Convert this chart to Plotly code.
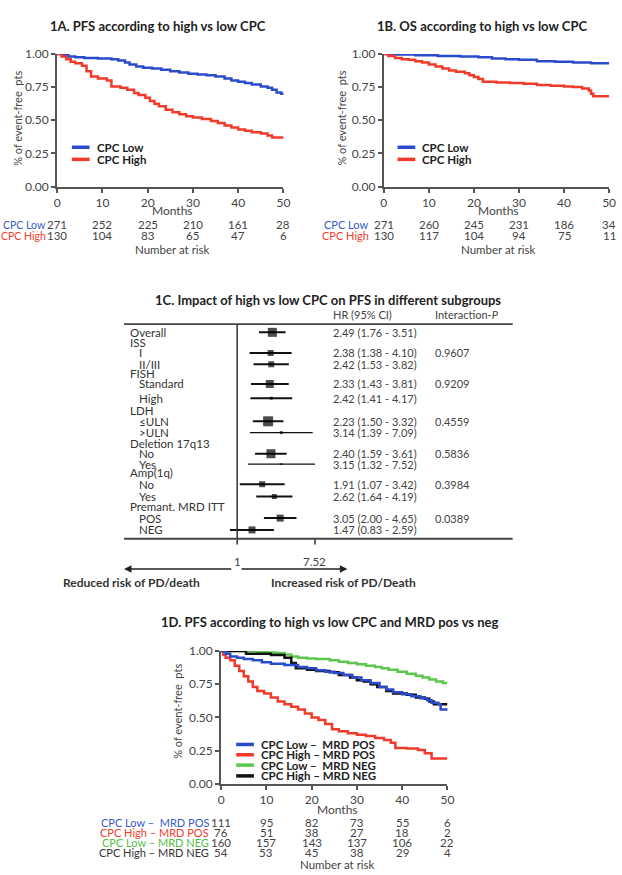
import numpy as np
import plotly.graph_objects as go

W, H = 622, 875
FONT = "Lato, 'Open Sans', sans-serif"

# ---------------- DATA ----------------
months_ticks = [0, 10, 20, 30, 40, 50]

# 1A PFS
pfs_low_t = [0, 1, 2.5, 4, 6, 9, 12, 13.5, 15, 16, 17.5, 19, 21, 23, 25, 27, 29, 31, 33, 35, 37, 38.5, 40, 41.5, 43, 45, 46.5, 47.5, 48.5, 49.5, 50]
pfs_low_s = [1.0, 0.99, 0.98, 0.975, 0.97, 0.965, 0.96, 0.95, 0.935, 0.92, 0.905, 0.895, 0.89, 0.88, 0.87, 0.86, 0.85, 0.845, 0.84, 0.83, 0.815, 0.80, 0.79, 0.78, 0.77, 0.755, 0.745, 0.73, 0.71, 0.70, 0.69]
pfs_high_t = [0, 1, 2, 3, 4, 5.5, 6.5, 7.5, 9, 11, 12, 14, 15.5, 17, 18, 19.5, 20.5, 21.5, 22.5, 24, 25.5, 27, 28.5, 30, 32, 34, 35.5, 37, 38.5, 40, 41.5, 43, 45, 46.5, 47.5, 50]
pfs_high_s = [1.0, 0.98, 0.96, 0.94, 0.93, 0.91, 0.87, 0.83, 0.815, 0.80, 0.755, 0.745, 0.73, 0.705, 0.69, 0.67, 0.645, 0.625, 0.605, 0.58, 0.56, 0.545, 0.53, 0.52, 0.51, 0.495, 0.48, 0.46, 0.445, 0.43, 0.42, 0.41, 0.40, 0.385, 0.37, 0.36]
pfs_risk_labels = ["CPC Low", "CPC High"]
pfs_risk = [[271, 252, 225, 210, 161, 28], [130, 104, 83, 65, 47, 6]]

# 1B OS
os_low_t = [0, 3, 7, 12, 17, 21, 24, 27, 30, 34, 38, 42, 46, 50]
os_low_s = [1.0, 0.995, 0.99, 0.985, 0.98, 0.975, 0.965, 0.96, 0.955, 0.945, 0.94, 0.935, 0.93, 0.925]
os_high_t = [0, 1, 2.5, 4, 5.5, 7, 8.5, 10, 11.5, 13, 14.5, 16, 18, 19, 20, 21, 22, 25, 28, 31, 34, 37, 40, 42, 44, 45.5, 46, 46.5, 50]
os_high_s = [1.0, 0.985, 0.97, 0.96, 0.955, 0.945, 0.935, 0.92, 0.905, 0.89, 0.875, 0.865, 0.855, 0.84, 0.825, 0.81, 0.79, 0.785, 0.78, 0.775, 0.765, 0.76, 0.755, 0.75, 0.74, 0.725, 0.70, 0.68, 0.675]
os_risk = [[271, 260, 245, 231, 186, 34], [130, 117, 104, 94, 75, 11]]

# 1C forest
fp_rows = ["Overall", "ISS", "I", "II/III", "FISH", "Standard", "High", "LDH", "≤ULN", "&gt;ULN",
           "Deletion 17q13", "No", "Yes", "Amp(1q)", "No", "Yes", "Premant. MRD ITT", "POS", "NEG"]
fp_hr = [2.49, None, 2.38, 2.42, None, 2.33, 2.42, None, 2.23, 3.14, None, 2.40, 3.15, None, 1.91, 2.62, None, 3.05, 1.47]
fp_lo = [1.76, None, 1.38, 1.53, None, 1.43, 1.41, None, 1.50, 1.39, None, 1.59, 1.32, None, 1.07, 1.64, None, 2.00, 0.83]
fp_hi = [3.51, None, 4.10, 3.82, None, 3.81, 4.17, None, 3.32, 7.09, None, 3.61, 7.52, None, 3.42, 4.19, None, 4.65, 2.59]
fp_p = ["", "", "0.9607", "", "", "0.9209", "", "", "0.4559", "", "", "0.5836", "", "", "0.3984", "", "", "0.0389", ""]
fp_ticks = [1, 7.52]

# 1D
d_labels = ["CPC Low \u2013  MRD POS", "CPC High \u2013 MRD POS", "CPC Low \u2013 MRD NEG", "CPC High \u2013 MRD NEG"]
d_legend = ["CPC Low \u2013  MRD POS", "CPC High \u2013 MRD POS", "CPC Low \u2013  MRD NEG", "CPC High \u2013 MRD NEG"]
d_low_pos_t = [0, 1, 2, 3.5, 5, 7, 9, 11, 14, 17, 19, 21, 23, 25, 27, 29, 31, 33, 35, 36.5, 38, 40, 42, 44, 45.5, 46.5, 48, 48.5, 50]
d_low_pos_s = [1.0, 0.98, 0.96, 0.95, 0.94, 0.93, 0.915, 0.905, 0.895, 0.88, 0.87, 0.855, 0.845, 0.835, 0.82, 0.80, 0.78, 0.76, 0.73, 0.71, 0.69, 0.675, 0.66, 0.645, 0.63, 0.61, 0.60, 0.56, 0.55]
d_high_pos_t = [0, 0.5, 1, 2, 3, 4, 5, 6, 7, 8, 9.5, 11, 12.5, 14, 15.5, 17, 18.5, 20, 21.5, 23, 24.5, 26, 28, 30, 32, 34, 36, 37.5, 38.5, 41, 43.5, 45, 46.5, 50]
d_high_pos_s = [1.0, 0.97, 0.95, 0.93, 0.89, 0.85, 0.81, 0.77, 0.73, 0.70, 0.68, 0.65, 0.62, 0.60, 0.58, 0.56, 0.53, 0.50, 0.48, 0.45, 0.41, 0.395, 0.38, 0.37, 0.36, 0.345, 0.33, 0.31, 0.27, 0.265, 0.255, 0.23, 0.19, 0.19]
d_low_neg_t = [0, 7, 8, 10, 12, 14, 15.5, 17, 19, 21, 24, 26, 28, 30, 32, 34, 35.5, 37, 39, 41, 43, 44.5, 46, 47.5, 49, 50]
d_low_neg_s = [1.0, 1.0, 0.995, 0.99, 0.985, 0.975, 0.96, 0.95, 0.945, 0.94, 0.93, 0.92, 0.91, 0.90, 0.89, 0.88, 0.87, 0.86, 0.845, 0.83, 0.815, 0.80, 0.785, 0.77, 0.76, 0.76]
d_high_neg_t = [0, 5.5, 11, 14, 15.5, 16.5, 19, 21, 24, 26, 28.5, 30, 31.5, 33, 34.5, 36.5, 38, 41, 43, 45, 46, 47, 50]
d_high_neg_s = [1.0, 0.98, 0.97, 0.95, 0.91, 0.87, 0.86, 0.85, 0.84, 0.82, 0.80, 0.78, 0.77, 0.75, 0.73, 0.70, 0.68, 0.67, 0.65, 0.64, 0.62, 0.60, 0.60]
d_risk = [[111, 95, 82, 73, 55, 6], [76, 51, 38, 27, 18, 2], [160, 157, 143, 137, 106, 22], [54, 53, 45, 38, 29, 4]]

# ---------------- STYLE ----------------
BLUE = "#2A4BCB"
RED = "#F23A2B"
GREEN = "#5DC64E"
BLACK = "#111111"
TXT_BLUE = "#3A5BC8"
TXT_RED = "#F0402F"
TXT_GREEN = "#55BE45"
TXT_DARK = "#3a3a3a"
AXC = "#555555"


def X(px):
    return px / W


def Y(py):
    return 1 - py / H


fig = go.Figure()
ann = []
shapes = []


def text(t, px, py, size=11, color=TXT_DARK, xanchor="center", bold=False, xref="paper", yref="paper", **kw):
    if bold:
        t = "<b>" + t + "</b>"
    ann.append(dict(text=t, x=px if xref != "paper" else X(px), y=py if yref != "paper" else Y(py),
                    xref=xref, yref=yref, showarrow=False, xanchor=xanchor, yanchor="middle",
                    font=dict(size=size, color=color, family=FONT), **kw))


def km(tx, sy, color, xa, ya):
    fig.add_trace(go.Scatter(x=tx, y=sy, mode="lines", line=dict(color=color, width=2.5, shape="hv"),
                             xaxis=xa, yaxis=ya, cliponaxis=False, hoverinfo="skip"))


# 1A
km(pfs_low_t, pfs_low_s, BLUE, "x", "y")
km(pfs_high_t, pfs_high_s, RED, "x", "y")
# 1B
km(os_low_t, os_low_s, BLUE, "x2", "y2")
km(os_high_t, os_high_s, RED, "x2", "y2")
# 1D
km(d_low_neg_t, d_low_neg_s, GREEN, "x4", "y4")
km(d_high_pos_t, d_high_pos_s, RED, "x4", "y4")
km(d_high_neg_t, d_high_neg_s, BLACK, "x4", "y4")
km(d_low_pos_t, d_low_pos_s, BLUE, "x4", "y4")

# forest
row_py = [330, 340, 351, 362.5, 372, 382.5, 397, 409.5, 420.5, 432, 443, 453.5, 464, 473, 484.5, 497, 507.5, 519, 531]
row_indent = [0, 0, 1, 1, 0, 1, 1, 0, 1, 1, 0, 1, 1, 0, 1, 1, 0, 1, 1]
marker_sizes = [9, 0, 6, 6, 0, 8, 3, 0, 10, 3, 0, 9, 2, 0, 6, 5, 0, 7, 7]
ci_widths = [2, 0, 2, 2, 0, 2, 2, 0, 2, 1.2, 0, 2, 1.2, 0, 2, 2, 0, 2, 2]

for i, hr in enumerate(fp_hr):
    if hr is None:
        continue
    fig.add_trace(go.Scatter(x=[fp_lo[i], fp_hi[i]], y=[row_py[i], row_py[i]], mode="lines",
                             line=dict(color=BLACK, width=ci_widths[i]), xaxis="x3", yaxis="y3",
                             cliponaxis=False, hoverinfo="skip"))
idx = [i for i, h in enumerate(fp_hr) if h is not None]
fig.add_trace(go.Scatter(x=[fp_hr[i] for i in idx], y=[row_py[i] for i in idx], mode="markers",
                         marker=dict(symbol="square", size=[marker_sizes[i] for i in idx], color="#000",
                                     line=dict(width=0)),
                         xaxis="x3", yaxis="y3", cliponaxis=False, hoverinfo="skip"))
# reference line at HR = 1 and ticks
fig.add_trace(go.Scatter(x=[1, 1], y=[321.7, 546], mode="lines", line=dict(color="#333", width=1.5),
                         xaxis="x3", yaxis="y3", cliponaxis=False, hoverinfo="skip"))
fig.add_trace(go.Scatter(x=[fp_ticks[1], fp_ticks[1]], y=[540, 546], mode="lines", line=dict(color="#333", width=1.5),
                         xaxis="x3", yaxis="y3", cliponaxis=False, hoverinfo="skip"))

# ---------------- AXES ----------------
def kmx(dom):
    return dict(domain=dom, range=[0, 50], tickvals=months_ticks, showline=True, linecolor=AXC, linewidth=2,
                ticks="outside", ticklen=4, tickwidth=1.5, tickcolor=AXC, showgrid=False, zeroline=False,
                tickfont=dict(size=12, color="#444", family=FONT), fixedrange=True)


def kmy(dom):
    return dict(domain=dom, range=[0, 1], tickvals=[0, 0.25, 0.5, 0.75, 1.0], tickformat=".2f", showline=True,
                linecolor=AXC, linewidth=2, ticks="outside", ticklen=4, tickwidth=1.5, tickcolor=AXC,
                showgrid=False, zeroline=False, tickfont=dict(size=12, color="#444", family=FONT), fixedrange=True)


fx0, fx1 = 123, 518
lnscale = 39.2
fig.update_layout(
    width=W, height=H, margin=dict(l=0, r=0, t=0, b=0), paper_bgcolor="white", plot_bgcolor="rgba(0,0,0,0)",
    showlegend=False, font=dict(family=FONT),
    xaxis=dict(kmx([X(55), X(285)]), anchor="y"),
    yaxis=dict(kmy([Y(181.7), Y(46.7)]), anchor="x"),
    xaxis2=dict(kmx([X(387), X(616)]), anchor="y2"),
    yaxis2=dict(kmy([Y(181.7), Y(46.7)]), anchor="x2"),
    xaxis3=dict(domain=[X(fx0), X(fx1)], type="log", anchor="y3", visible=False, fixedrange=True,
                range=[(fx0 - 238) / lnscale / np.log(10), (fx1 - 238) / lnscale / np.log(10)]),
    yaxis3=dict(domain=[Y(546), Y(321.7)], range=[546, 321.7], anchor="x3", visible=False, fixedrange=True),
    xaxis4=dict(kmx([X(221.7), X(451.7)]), anchor="y4"),
    yaxis4=dict(kmy([Y(789.3), Y(654.3)]), anchor="x4"),
)

# ---------------- TEXT ----------------
# titles
text("1A. PFS according to high vs low CPC", 158, 18, size=13, color="#222", bold=True)
text("1B. OS according to high vs low CPC", 487, 18, size=13, color="#222", bold=True)
text("1C. Impact of high vs low CPC on PFS in different subgroups", 330, 297, size=13, color="#222", bold=True)
text("1D. PFS according to high vs low CPC and MRD pos vs neg", 332, 625, size=13, color="#222", bold=True)

# y-axis titles
for px, py in [(14, 112), (344, 112), (178, 716)]:
    text("% of event-free  pts", px, py, size=11, color="#444", textangle=-90)

# Months / Number at risk
for px in [172, 504]:
    text("Months", px, 206, size=12, color="#444")
    text("Number at risk", px, 246, size=11.5, color="#444")
text("Months", 340, 815, size=12, color="#444")
text("Number at risk", 340, 871.5, size=11.5, color="#444")

# risk tables
risk_colors = [TXT_BLUE, TXT_RED]
for r, (lab, col) in enumerate(zip(pfs_risk_labels, risk_colors)):
    py = [220.7, 231.7][r]
    text(lab, 46, py, size=10.5, color=col, xanchor="right")
    text(lab, 374, py, size=11, color=col, xanchor="right")
    for m, v in zip(months_ticks, pfs_risk[r]):
        text(str(v), m, py, size=11.5, color="#444", xref="x")
    for m, v in zip(months_ticks, os_risk[r]):
        text(str(v), m, py, size=11.5, color="#444", xref="x2")

d_txt_cols = [TXT_BLUE, TXT_RED, TXT_GREEN, "#333"]
d_row_py = [828.3, 838.5, 849, 859.3]
for r in range(4):
    text(d_labels[r], 211, d_row_py[r], size=11, color=d_txt_cols[r], xanchor="right")
    for m, v in zip(months_ticks, d_risk[r]):
        text(str(v), m, d_row_py[r], size=11.5, color="#444", xref="x4")

# legends (1A, 1B, 1D)
def legend_item(px0, px1, py, color, label):
    shapes.append(dict(type="line", xref="paper", yref="paper", x0=X(px0), x1=X(px1), y0=Y(py), y1=Y(py),
                       line=dict(color=color, width=3.5)))
    text(label, px1 + 5, py, size=11.5, color="#222", xanchor="left", bold=True)


legend_item(70, 88, 141.7, BLUE, "CPC Low")
legend_item(70, 88, 154, RED, "CPC High")
legend_item(401, 419, 141.7, BLUE, "CPC Low")
legend_item(401, 419, 154, RED, "CPC High")
for k, (col, py) in enumerate(zip([BLUE, RED, GREEN, BLACK], [749.3, 759.8, 770.3, 781.3])):
    legend_item(237, 255, py, col, d_legend[k])

# forest text
text("HR (95% CI)", 333, 311.5, size=11, color="#444", xanchor="left")
text("Interaction-<i>P</i>", 437, 311.5, size=11, color="#444", xanchor="left")
for i, lab in enumerate(fp_rows):
    text(lab, 127.5 + 9 * row_indent[i], row_py[i], size=11.5, color="#333", xanchor="left")
    if fp_hr[i] is not None:
        text(f"{fp_hr[i]:.2f} ({fp_lo[i]:.2f} - {fp_hi[i]:.2f})", 333, row_py[i], size=11, color="#444",
             xanchor="left")
    if fp_p[i]:
        text(fp_p[i], 437, row_py[i], size=11, color="#444", xanchor="left")

for t in fp_ticks:
    ann.append(dict(text=("%g" % t), x=np.log10(t), y=Y(562.7), xref="x3", yref="paper", showarrow=False,
                    xanchor="center", yanchor="middle", font=dict(size=11.5, color="#444", family=FONT)))

# rules
for py in [321.7, 540]:
    shapes.append(dict(type="line", xref="paper", yref="paper", x0=X(123), x1=X(518), y0=Y(py), y1=Y(py),
                       line=dict(color="#444", width=1.8)))

# arrows
ann.append(dict(text="", x=X(123), y=Y(570.7), xref="paper", yref="paper", ax=108.7, ay=0, showarrow=True,
                arrowhead=2, arrowsize=1, arrowwidth=1.5, arrowcolor="#222"))
ann.append(dict(text="", x=X(350), y=Y(570.7), xref="paper", yref="paper", ax=-107.3, ay=0, showarrow=True,
                arrowhead=2, arrowsize=1, arrowwidth=1.5, arrowcolor="#222"))
text("Reduced risk of PD/death", 131, 585, size=12, color="#333", bold=True)
text("Increased risk of PD/Death", 346, 585, size=12, color="#333", bold=True)

fig.update_layout(annotations=ann, shapes=shapes)
fig.write_html("out.html")
